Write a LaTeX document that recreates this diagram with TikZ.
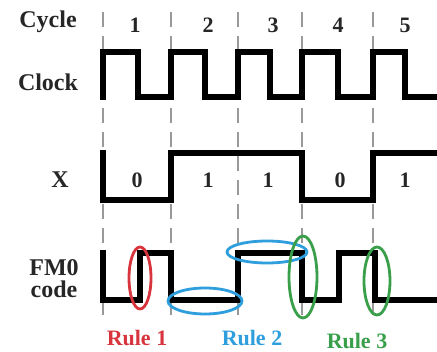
\documentclass[tikz,border=0pt]{standalone}
\usepackage{fontspec}
\setmainfont{Liberation Serif}
\begin{document}
\begin{tikzpicture}[x=1pt,y=-1pt,
  wave/.style={line width=5.5pt,line join=miter,line cap=butt},
  grid/.style={gray!80,line width=1.3pt,dash pattern=on 15pt off 9pt},
  lbl/.style={font=\bfseries\fontsize{24}{26}\selectfont,text=black!85,inner sep=0pt},
  num/.style={font=\bfseries\fontsize{22}{24}\selectfont,text=black!85,inner sep=0pt},
  ring/.style={line width=2.8pt},
  rulelbl/.style={font=\bfseries\fontsize{22}{24}\selectfont,inner sep=0pt}]
\definecolor{rred}{HTML}{D8343E}
\definecolor{rblue}{HTML}{2F9EDD}
\definecolor{rgreen}{HTML}{3A9F4A}
\fill[white] (0,0) rectangle (437,352);
\useasboundingbox (0,0) rectangle (437,352);
% grid lines
\foreach \x in {103,171,238,302,373}
  \draw[grid] (\x,12) -- (\x,320);
% labels
\node[lbl] (cyc) at (48,22) {Cycle};
\node[lbl] (clk) at (48,82) {Clock};
\node[lbl] (xl) at (60,180) {X};
\node[lbl,align=center] (fm) at (54,279) {FM0\\[-4pt]code};
% cycle numbers
\node[num] (n1) at (135,25) {1};
\node[num] (n2) at (208,25) {2};
\node[num] (n3) at (273,25) {3};
\node[num] (n4) at (338,25) {4};
\node[num] (n5) at (405,25) {5};
% clock
\draw[wave] (103,100) -- (103,52) -- (138,52) -- (138,97) -- (171,97) -- (171,52)
  -- (205,52) -- (205,97) -- (238,97) -- (238,52) -- (270,52) -- (270,97)
  -- (302,97) -- (302,52) -- (338,52) -- (338,97) -- (373,97) -- (373,52)
  -- (405,52) -- (405,97) -- (437,97);
% X
\draw[wave] (103,150) -- (103,200) -- (171,200) -- (171,153) -- (302,153)
  -- (302,200) -- (373,200) -- (373,153) -- (437,153);
\node[num] (x1) at (137,180) {0};
\node[num] (x2) at (208,180) {1};
\node[num] (x3) at (268,180) {1};
\node[num] (x4) at (340,180) {0};
\node[num] (x5) at (405,180) {1};
% FM0
\draw[wave] (103,250) -- (103,300) -- (140,300) -- (140,253) -- (171,253)
  -- (171,300) -- (238,300) -- (238,253) -- (302,253) -- (302,300)
  -- (339,300) -- (339,253) -- (375,253) -- (375,300) -- (437,300);
% rings
\draw[ring,rred] (140,278) ellipse (11 and 31);
\draw[ring,rblue] (205,301) ellipse (37 and 13);
\draw[ring,rblue] (267,252) ellipse (40 and 11);
\draw[ring,rgreen] (303,277) ellipse (14 and 41);
\draw[ring,rgreen] (377,281) ellipse (13 and 34);
% rule labels
\node[rulelbl,text=rred] (r1) at (137,338) {Rule 1};
\node[rulelbl,text=rblue] (r2) at (252,338) {Rule 2};
\node[rulelbl,text=rgreen] (r3) at (357,341) {Rule 3};
\end{tikzpicture}
\end{document}
